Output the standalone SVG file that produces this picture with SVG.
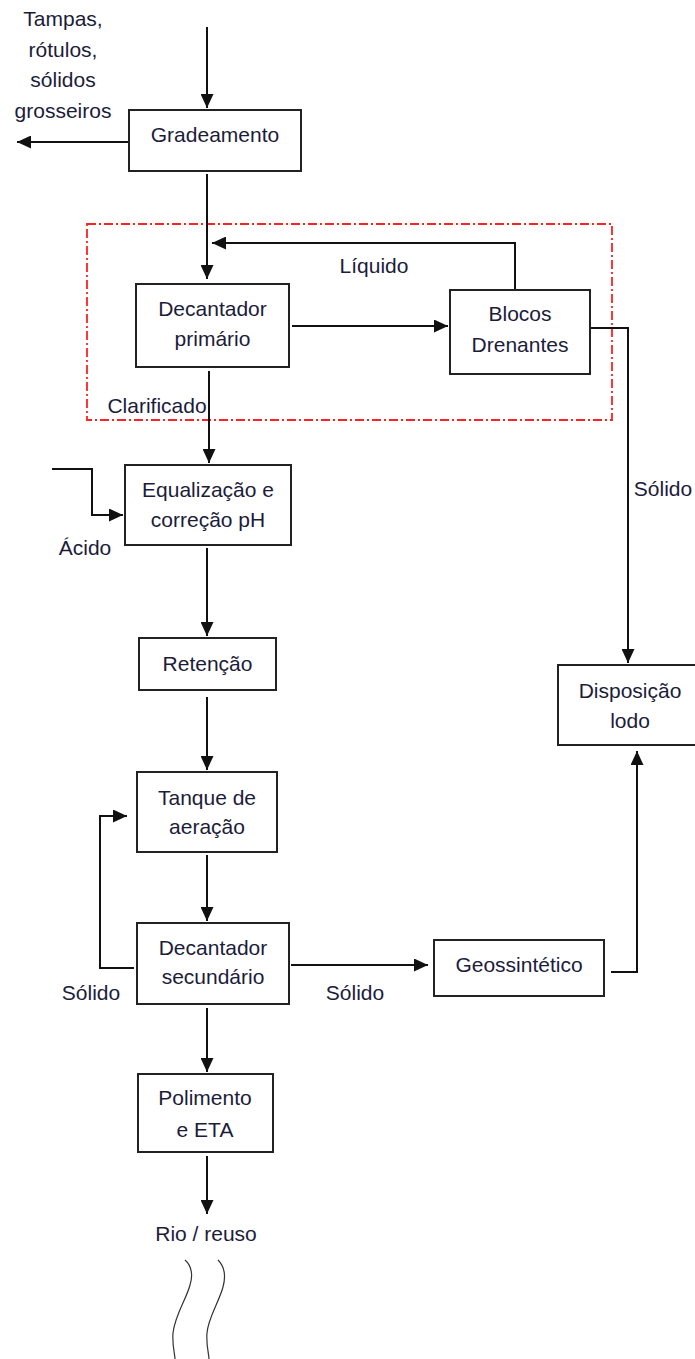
<svg xmlns="http://www.w3.org/2000/svg" width="695" height="1359" viewBox="0 0 695 1359">
  <defs>
    <marker id="arr" markerUnits="userSpaceOnUse" markerWidth="15" markerHeight="13" refX="14" refY="6.5" orient="auto">
      <path d="M0,0 L14,6.5 L0,13 Z" fill="#111"/>
    </marker>
    <style>
      .box { fill: #fff; stroke: #222; stroke-width: 2; }
      .t { font-family: "Liberation Sans", Arial, sans-serif; font-size: 21px; fill: #1c1c3a; text-anchor: middle; }
      .ln { fill: none; stroke: #111; stroke-width: 2; }
      .la { fill: none; stroke: #111; stroke-width: 2; marker-end: url(#arr); }
      .zone { fill: none; stroke: #f22; stroke-width: 1.8; stroke-dasharray: 9 3 2 3; }
      .wave { fill: none; stroke: #333; stroke-width: 1.2; }
    </style>
  </defs>
  <rect width="695" height="1359" fill="#fff"/>

  <rect id="zone" class="zone" x="87" y="224" width="525" height="196"/>

  <g id="connectors">
    <path class="la" d="M207,27 V108"/>
    <path class="la" d="M129,142 H17"/>
    <path class="la" d="M207,174 V279"/>
    <path class="la" d="M515,290 V243 H212"/>
    <path class="la" d="M292,326 H448"/>
    <path class="la" d="M590,328 H628 V663"/>
    <path class="la" d="M209,371 V463"/>
    <path class="la" d="M52,469 H92 V515 H123"/>
    <path class="la" d="M207,548 V636"/>
    <path class="la" d="M207,697 V770"/>
    <path class="la" d="M207,855 V921"/>
    <path class="la" d="M134,968 H100 V816 H127"/>
    <path class="la" d="M291,965 H428"/>
    <path class="la" d="M611,972 H637 V751"/>
    <path class="la" d="M207,1008 V1072"/>
    <path class="la" d="M207,1156 V1214"/>
    <text class="t" x="63" y="26">Tampas,</text>
    <text class="t" x="63" y="57">rótulos,</text>
    <text class="t" x="63" y="87">sólidos</text>
    <text class="t" x="63" y="118">grosseiros</text>
    <text class="t" x="374" y="273">Líquido</text>
    <text class="t" x="157" y="413">Clarificado</text>
    <text class="t" x="85" y="555">Ácido</text>
    <text class="t" x="663" y="496">Sólido</text>
    <text class="t" x="91" y="1000">Sólido</text>
    <text class="t" x="355" y="1000">Sólido</text>
    <text class="t" x="206" y="1241">Rio / reuso</text>
  </g>

  <g id="gradeamento">
    <rect class="box" x="129" y="110" width="172" height="61"/>
    <text class="t" x="215" y="142">Gradeamento</text>
  </g>
  <g id="decantador-primario">
    <rect class="box" x="136" y="284" width="153" height="83"/>
    <text class="t" x="212.5" y="316">Decantador</text>
    <text class="t" x="212.5" y="346">primário</text>
  </g>
  <g id="blocos-drenantes">
    <rect class="box" x="450" y="290" width="140" height="84"/>
    <text class="t" x="520" y="321">Blocos</text>
    <text class="t" x="520" y="352">Drenantes</text>
  </g>
  <g id="equalizacao">
    <rect class="box" x="125" y="465" width="166" height="80"/>
    <text class="t" x="208" y="497">Equalização e</text>
    <text class="t" x="208" y="527">correção pH</text>
  </g>
  <g id="retencao">
    <rect class="box" x="139" y="638" width="137" height="52"/>
    <text class="t" x="207.5" y="671">Retenção</text>
  </g>
  <g id="tanque-aeracao">
    <rect class="box" x="137" y="772" width="140" height="80"/>
    <text class="t" x="207" y="805">Tanque de</text>
    <text class="t" x="207" y="834">aeração</text>
  </g>
  <g id="decantador-secundario">
    <rect class="box" x="137" y="923" width="152" height="81"/>
    <text class="t" x="213" y="955">Decantador</text>
    <text class="t" x="213" y="984">secundário</text>
  </g>
  <g id="geossintetico">
    <rect class="box" x="434" y="940" width="170" height="56"/>
    <text class="t" x="519" y="972">Geossintético</text>
  </g>
  <g id="disposicao-lodo">
    <rect class="box" x="558" y="665" width="140" height="80"/>
    <text class="t" x="630" y="698">Disposição</text>
    <text class="t" x="630" y="728">lodo</text>
  </g>
  <g id="polimento-eta">
    <rect class="box" x="138" y="1074" width="135" height="78"/>
    <text class="t" x="205" y="1105">Polimento</text>
    <text class="t" x="205" y="1137">e ETA</text>
  </g>

  <g id="river">
    <path class="wave" d="M185,1260 C192,1266 193,1276 190,1285 C186,1300 175,1315 173,1333 C172,1345 175,1355 175,1359"/>
    <path class="wave" d="M218,1260 C224,1266 226,1276 223,1287 C219,1302 208,1318 207,1333 C206,1345 209,1355 209,1359"/>
  </g>
</svg>
